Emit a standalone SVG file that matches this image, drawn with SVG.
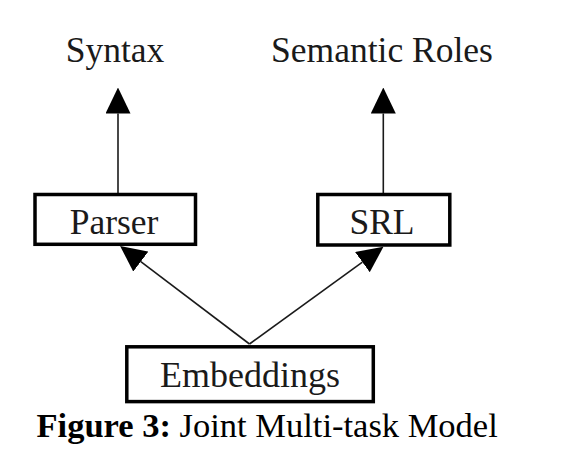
<svg xmlns="http://www.w3.org/2000/svg" width="577" height="453" viewBox="0 0 577 453">
  <style>
    .box { fill: #ffffff; stroke: #000000; stroke-width: 3.5; }
    .lbl { font-family: "Liberation Serif", "Times New Roman", serif; font-size: 35.5px; fill: #1a1a1a; text-anchor: middle; }
    .edge { stroke: #1a1a1a; stroke-width: 1.6; fill: none; marker-end: url(#arrow); }
    .cap { font-family: "Liberation Serif", "Times New Roman", serif; font-size: 34.5px; fill: #000000; }
  </style>
  <defs>
    <marker id="arrow" viewBox="0 0 26 25" refX="0" refY="12.5" markerWidth="26" markerHeight="25" markerUnits="userSpaceOnUse" orient="auto">
      <path d="M0,0 L26,12.5 L0,25 z" fill="#000000"/>
    </marker>
  </defs>
  <rect width="577" height="453" fill="#ffffff"/>

  <g id="connectors">
    <line class="edge" x1="118" y1="193" x2="118" y2="113.5"/>
    <line class="edge" x1="383.3" y1="193" x2="383.3" y2="113.5"/>
    <line class="edge" x1="249.5" y1="344" x2="140.8" y2="261.6"/>
    <line class="edge" x1="249.5" y1="344" x2="362.4" y2="262.1"/>
  </g>

  <g id="syntax">
    <text class="lbl" x="115" y="62">Syntax</text>
  </g>
  <g id="semantic-roles">
    <text class="lbl" x="382" y="62">Semantic Roles</text>
  </g>
  <g id="parser">
    <rect class="box" x="35" y="194.5" width="160.5" height="49.8"/>
    <text class="lbl" x="114" y="233.5">Parser</text>
  </g>
  <g id="srl">
    <rect class="box" x="317.8" y="194.5" width="132" height="50.5"/>
    <text class="lbl" x="382" y="234">SRL</text>
  </g>
  <g id="embeddings">
    <rect class="box" x="126.8" y="346.8" width="246.5" height="54.8"/>
    <text class="lbl" x="250" y="386.7" style="font-size:36px">Embeddings</text>
  </g>
  <g id="caption">
    <text class="cap" x="36.5" y="436.7"><tspan font-weight="bold">Figure 3:</tspan> Joint Multi-task Model</text>
  </g>
</svg>
